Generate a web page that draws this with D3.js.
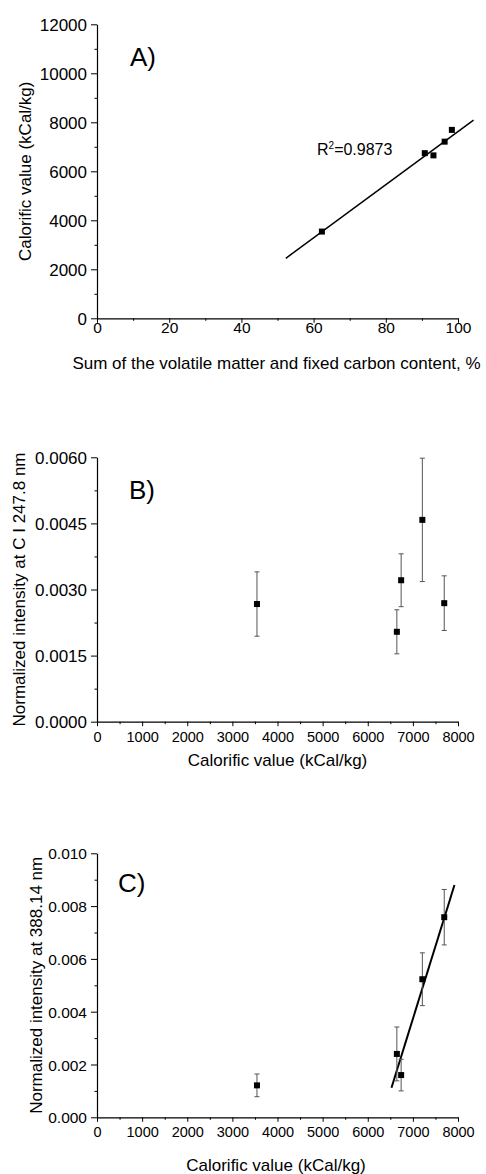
<!DOCTYPE html>
<html>
<head>
<meta charset="utf-8">
<script src="https://cdn.jsdelivr.net/npm/d3@7"></script>
<style>
  body { margin: 0; background: #fff; }
  svg { display: block; font-family: "Liberation Sans", Arial, sans-serif; }
</style>
</head>
<body>
<div id="chart"></div>
<script>
// samples, ordered by calorific value
const calorific = [3545, 6645, 6740, 7210, 7695];          // kCal/kg
const volatilePlusFixed = [62.3, 93.2, 90.8, 96.3, 98.3];   // %
const calorificA = [3540, 6650, 6740, 7210, 7690];

const intensityCI = [0.00267, 0.00204, 0.00321, 0.00458, 0.00269];
const errorCI = [0.00073, 0.00050, 0.00060, 0.00140, 0.00062];

const intensity388 = [0.00121, 0.00240, 0.00160, 0.00523, 0.00758];
const error388 = [0.00043, 0.00102, 0.00060, 0.00100, 0.00105];

// linear fits (end points)
const fitAx = [52.3, 104.3];
const fitAy = [2450, 8090];
const fitCx = [6526, 7922];
const fitCy = [0.00112, 0.00880];

const settings = {
  width: 486,
  height: 1174,
  xTickMajor: 4.5,
  yTickMajor: 6,
  tickMinor: 2.5,
  marker: 6,
  cap: 5,
};

const svg = d3.select("#chart").append("svg")
  .attr("width", settings.width)
  .attr("height", settings.height);

function drawPanel(p) {
  const g = svg.append("g").attr("transform", `translate(${p.left},${p.top})`);

  const x = d3.scaleLinear().domain(p.xDomain).range([0, p.w]);
  const y = d3.scaleLinear().domain(p.yDomain).range([p.h, 0]);

  // minor ticks first
  g.append("g").attr("transform", `translate(0,${p.h})`)
    .call(d3.axisBottom(x).tickValues(p.xMinor).tickSize(settings.tickMinor).tickSizeOuter(0).tickFormat(""))
    .call(a => a.select(".domain").remove());
  g.append("g")
    .call(d3.axisLeft(y).tickValues(p.yMinor).tickSize(settings.tickMinor).tickSizeOuter(0).tickFormat(""))
    .call(a => a.select(".domain").remove());

  const xAxis = g.append("g").attr("transform", `translate(0,${p.h})`)
    .call(d3.axisBottom(x).tickValues(p.xMajor).tickSize(settings.xTickMajor).tickSizeOuter(0).tickFormat(p.xFormat));
  xAxis.selectAll("text")
    .attr("y", p.xLabelBase).attr("dy", null)
    .attr("font-size", p.xTickFont).attr("fill", "#000");

  const yAxis = g.append("g")
    .call(d3.axisLeft(y).tickValues(p.yMajor).tickSize(settings.yTickMajor).tickSizeOuter(0).tickFormat(p.yFormat));
  yAxis.selectAll("text")
    .attr("x", -10).attr("dy", "0.36em")
    .attr("font-size", p.yTickFont).attr("fill", "#000");

  svg.selectAll(".domain").attr("stroke", "#000").attr("stroke-width", 1.2);
  svg.selectAll(".tick line").attr("stroke", "#000");

  // fit line
  if (p.fitX) {
    g.append("line")
      .attr("x1", x(p.fitX[0])).attr("y1", y(p.fitY[0]))
      .attr("x2", x(p.fitX[1])).attr("y2", y(p.fitY[1]))
      .attr("stroke", "#000").attr("stroke-width", p.fitWidth);
  }

  const data = p.xs.map((v, i) => ({ x: v, y: p.ys[i], e: p.err ? p.err[i] : 0 }));

  if (p.err) {
    const eb = g.append("g").attr("stroke", "#555").attr("stroke-width", 1);
    data.forEach(d => {
      eb.append("line").attr("x1", x(d.x)).attr("x2", x(d.x))
        .attr("y1", y(d.y - d.e)).attr("y2", y(d.y + d.e));
      [d.y - d.e, d.y + d.e].forEach(v => {
        eb.append("line")
          .attr("x1", x(d.x) - settings.cap / 2).attr("x2", x(d.x) + settings.cap / 2)
          .attr("y1", y(v)).attr("y2", y(v));
      });
    });
  }

  g.selectAll("rect.pt").data(data).join("rect")
    .attr("class", "pt")
    .attr("x", d => x(d.x) - settings.marker / 2)
    .attr("y", d => y(d.y) - settings.marker / 2)
    .attr("width", settings.marker).attr("height", settings.marker)
    .attr("fill", "#000");

  // panel letter
  g.append("text")
    .attr("x", p.letterX).attr("y", p.letterY)
    .attr("font-size", 26).attr("fill", "#000")
    .text(p.letter);

  // axis titles
  g.append("text")
    .attr("x", p.xTitleX).attr("y", p.xTitleY)
    .attr("text-anchor", "middle").attr("font-size", 17).attr("fill", "#000")
    .text(p.xTitle);
  g.append("text")
    .attr("transform", `translate(${p.yTitleX},${p.h / 2}) rotate(-90)`)
    .attr("text-anchor", "middle").attr("font-size", 17).attr("fill", "#000")
    .text(p.yTitle);

  return { g, x, y };
}

const panelA = drawPanel({
  left: 97, top: 24.3, w: 361, h: 294,
  xDomain: [0, 100], yDomain: [0, 12000],
  xMajor: d3.range(0, 101, 20), xMinor: d3.range(10, 100, 20),
  yMajor: d3.range(0, 12001, 2000), yMinor: d3.range(1000, 12000, 2000),
  xFormat: d3.format("d"), yFormat: d3.format("d"),
  xTickFont: 15.5, yTickFont: 17, xLabelBase: 14.5,
  xs: volatilePlusFixed, ys: calorificA,
  fitX: fitAx, fitY: fitAy, fitWidth: 1.5,
  letter: "A)", letterX: 33, letterY: 41.5,
  xTitle: "Sum of the volatile matter and fixed carbon content, %",
  xTitleX: 179.5, xTitleY: 344.7,
  yTitle: "Calorific value (kCal/kg)", yTitleX: -66.5,
});

// R² annotation
const r2 = panelA.g.append("text")
  .attr("x", 220).attr("y", 131).attr("font-size", 16).attr("fill", "#000");
r2.append("tspan").text("R");
r2.append("tspan").attr("font-size", 10).attr("dy", -6).text("2");
r2.append("tspan").attr("dy", 6).text("=0.9873");

drawPanel({
  left: 97, top: 457.3, w: 361, h: 264.4,
  xDomain: [0, 8000], yDomain: [0, 0.006],
  xMajor: d3.range(0, 8001, 1000), xMinor: d3.range(500, 8000, 1000),
  yMajor: [0, 0.0015, 0.003, 0.0045, 0.006], yMinor: [0.00075, 0.00225, 0.00375, 0.00525],
  xFormat: d3.format("d"), yFormat: d3.format(".4f"),
  xTickFont: 14.5, yTickFont: 17, xLabelBase: 20,
  xs: calorific, ys: intensityCI, err: errorCI,
  letter: "B)", letterX: 32, letterY: 42,
  xTitle: "Calorific value (kCal/kg)", xTitleX: 180.5, xTitleY: 308.7,
  yTitle: "Normalized intensity at C I 247.8 nm", yTitleX: -72,
});

drawPanel({
  left: 97, top: 853.3, w: 361, h: 264,
  xDomain: [0, 8000], yDomain: [0, 0.01],
  xMajor: d3.range(0, 8001, 1000), xMinor: d3.range(500, 8000, 1000),
  yMajor: [0, 0.002, 0.004, 0.006, 0.008, 0.010], yMinor: [0.001, 0.003, 0.005, 0.007, 0.009],
  xFormat: d3.format("d"), yFormat: d3.format(".3f"),
  xTickFont: 14.5, yTickFont: 15.5, xLabelBase: 19.5,
  xs: calorific, ys: intensity388, err: error388,
  fitX: fitCx, fitY: fitCy, fitWidth: 2,
  letter: "C)", letterX: 21, letterY: 38.5,
  xTitle: "Calorific value (kCal/kg)", xTitleX: 179, xTitleY: 317.7,
  yTitle: "Normalized intensity at 388.14 nm", yTitleX: -55,
});
</script>
</body>
</html>
